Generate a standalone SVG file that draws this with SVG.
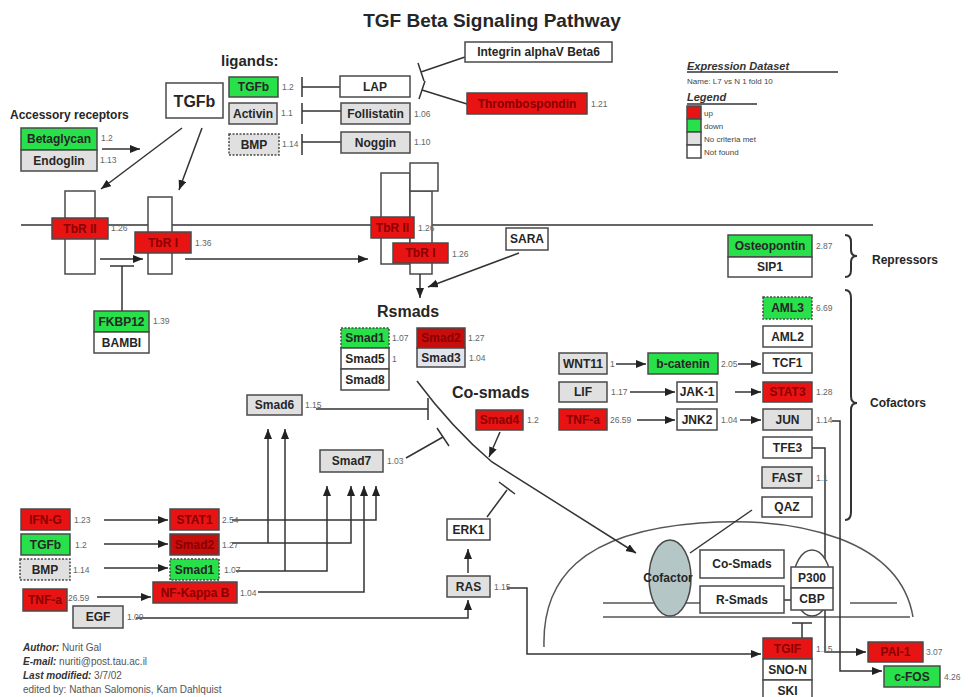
<svg xmlns="http://www.w3.org/2000/svg" width="968" height="697" viewBox="0 0 968 697">
<style>
.b{stroke:#4a4a4a;stroke-width:1.5}
.red{fill:#e81414}.grn{fill:#28e04a}.gry{fill:#e0e0e0}.wht{fill:#fff}.blu{fill:#e2e4ee}
.dot{stroke-dasharray:2 1.5}
text{font-family:"Liberation Sans",Arial,sans-serif}
.t{font-size:12px;font-weight:bold;text-anchor:middle;fill:#262626}
.rt{fill:#8a0000}
.v{font-size:8.5px;fill:#666}
.h{font-weight:bold;fill:#262626}
.c{stroke:#333;stroke-width:1.5;fill:none}
.a{marker-end:url(#ar)}
</style>
<defs>
<marker id="ar" markerUnits="userSpaceOnUse" markerWidth="11" markerHeight="9" refX="10" refY="4" orient="auto"><path d="M0,0 L10,4 L0,8 z" fill="#222"/></marker>
</defs>
<rect width="968" height="697" fill="#fff"/>
<text x="492" y="27" font-size="19" class="h" text-anchor="middle">TGF Beta Signaling Pathway</text>
<text x="221" y="66" font-size="15" class="h">ligands:</text>
<text x="10" y="119" font-size="12" class="h">Accessory receptors</text>
<text x="377" y="317" font-size="16" class="h">Rsmads</text>
<text x="452" y="398" font-size="16" class="h">Co-smads</text>
<text x="872" y="264" font-size="12" class="h">Repressors</text>
<text x="870" y="407" font-size="12" class="h">Cofactors</text>

<!-- legend -->
<g id="legend">
<text x="687" y="70" font-size="11" font-weight="bold" font-style="italic" fill="#333">Expression Dataset</text>
<line x1="687" y1="72" x2="838" y2="72" stroke="#333" stroke-width="1.5"/>
<text x="687" y="84" font-size="8" fill="#444">Name: L7 vs N 1 fold 10</text>
<text x="687" y="101" font-size="11" font-weight="bold" font-style="italic" fill="#333">Legend</text>
<line x1="687" y1="104" x2="757" y2="104" stroke="#333" stroke-width="1.5"/>
<rect x="687" y="106" width="14" height="13" class="red b" stroke-width="1"/>
<rect x="687" y="119" width="14" height="13" class="grn b" stroke-width="1"/>
<rect x="687" y="132" width="14" height="13" class="gry b" stroke-width="1"/>
<rect x="687" y="145" width="14" height="13" class="wht b" stroke-width="1"/>
<text x="704" y="116" font-size="8" fill="#444">up</text>
<text x="704" y="129" font-size="8" fill="#444">down</text>
<text x="704" y="142" font-size="8" fill="#444">No criteria met</text>
<text x="704" y="155" font-size="8" fill="#444">Not found</text>
</g>

<!-- membranes / compartments -->
<g id="compartments">
<line x1="21" y1="225" x2="873" y2="225" stroke="#666" stroke-width="2"/>
<path d="M544,647 C542,580 580,532 700,523 C800,516 900,540 913,617" fill="none" stroke="#555" stroke-width="1.5"/>
<line x1="603" y1="603" x2="700" y2="603" stroke="#555" stroke-width="1.5"/>
<line x1="850" y1="603" x2="897" y2="603" stroke="#555" stroke-width="1.5"/>
<line x1="603" y1="617" x2="910" y2="617" stroke="#555" stroke-width="1.5"/>
<path d="M845,235 Q851,235 851,242 L851,250 Q851,256 857,256 Q851,256 851,262 L851,270 Q851,277 845,277" fill="none" stroke="#333" stroke-width="2"/>
<path d="M845,290 Q851,290 851,298 L851,396 Q851,403 857,403 Q851,403 851,410 L851,512 Q851,520 845,520" fill="none" stroke="#333" stroke-width="2"/>
</g>

<!-- receptors (membrane shapes) -->
<g id="receptor-shapes" class="b" fill="#fff">
<rect x="65" y="191" width="30" height="83"/>
<rect x="148" y="197" width="24" height="77"/>
<rect x="381" y="173" width="29" height="91"/>
<rect x="410" y="191" width="22" height="83"/>
<rect x="410" y="163" width="28" height="28"/>
</g>

<g id="connectors">
<line x1="102" y1="149" x2="140" y2="149" class="c a"/>
<line x1="182" y1="128" x2="101" y2="189" class="c a"/>
<line x1="202" y1="128" x2="179" y2="190" class="c a"/>
<path d="M340,87 H302 M302,77 V97" class="c"/>
<path d="M341,111 H302 M302,103 V124" class="c"/>
<path d="M341,142 H302 M302,134 V155" class="c"/>
<path d="M465,57 L421,72 M418,63 L424,81" class="c"/>
<path d="M467,104 L422,90 M425,81 L419,99" class="c"/>
<line x1="100" y1="259" x2="143" y2="259" class="c a"/>
<path d="M122,311 V266 M110,266 H134" class="c"/>
<line x1="185" y1="259" x2="368" y2="259" class="c a"/>
<line x1="420" y1="274" x2="420" y2="298" class="c a"/>
<line x1="519" y1="253" x2="428" y2="287" class="c a"/>
<path d="M316,409 H428 M428,398 V420" class="c"/>
<path d="M406,458 L443,437 M437,428 L449,446" class="c"/>
<line x1="500" y1="432" x2="489" y2="457" class="c a"/>
<path d="M417,381 Q452,428 492,462 L636,553" class="c a"/>
<path d="M487,517 L507,490 M499,482 L515,494" class="c"/>
<line x1="468" y1="573" x2="468" y2="549" class="c a"/>
<path d="M136,618 H468 V600" class="c a"/>
<path d="M232,520 H376 V486" class="c a"/>
<path d="M232,543 H351 V486" class="c a"/>
<path d="M268,543 V429" class="c a"/>
<path d="M236,571 H327 V486" class="c a"/>
<path d="M285,571 V429" class="c a"/>
<path d="M258,592 H364 V486" class="c a"/>
<line x1="104" y1="520" x2="168" y2="520" class="c a"/>
<line x1="104" y1="544" x2="168" y2="544" class="c a"/>
<line x1="104" y1="568" x2="168" y2="568" class="c a"/>
<line x1="97" y1="597" x2="151" y2="597" class="c a"/>
<path d="M507,588 H527 V654 H761" class="c a"/>
<line x1="616" y1="364" x2="646" y2="364" class="c a"/>
<line x1="738" y1="364" x2="761" y2="364" class="c a"/>
<line x1="630" y1="392" x2="675" y2="392" class="c a"/>
<line x1="735" y1="392" x2="761" y2="392" class="c a"/>
<line x1="637" y1="420" x2="675" y2="420" class="c a"/>
<line x1="740" y1="420" x2="761" y2="420" class="c a"/>
<path d="M832,421 H840 V671 H882" class="c a"/>
<path d="M812,448 H825 V652 H866" class="c a"/>
<line x1="752" y1="510" x2="690" y2="553" class="c"/>
<path d="M802,638 V623 M792,623 H812" class="c"/>
<line x1="784" y1="600" x2="791" y2="600" class="c"/>
</g>

<!-- nodes -->
<g id="TGFb-main"><rect x="166" y="83" width="57" height="35" class="wht b"/><text x="194.5" y="106.5" class="t" style="font-size:16px">TGFb</text></g>
<g id="TGFb-lig"><rect x="229" y="77" width="49" height="20" class="grn b"/><text x="253.5" y="91" class="t">TGFb</text><text x="282" y="90" class="v">1.2</text></g>
<g id="Activin"><rect x="229" y="103" width="48" height="21" class="gry b"/><text x="253" y="118" class="t">Activin</text><text x="281" y="116" class="v">1.1</text></g>
<g id="BMP-lig"><rect x="229" y="134" width="50" height="21" class="gry b dot"/><text x="254" y="149" class="t">BMP</text><text x="282" y="147" class="v">1.14</text></g>
<g id="LAP"><rect x="340" y="76" width="70" height="21" class="wht b"/><text x="375" y="91" class="t">LAP</text></g>
<g id="Follistatin"><rect x="341" y="103" width="69" height="21" class="gry b"/><text x="375.5" y="118" class="t">Follistatin</text><text x="414" y="117" class="v">1.06</text></g>
<g id="Noggin"><rect x="341" y="132" width="69" height="21" class="gry b"/><text x="375.5" y="147" class="t">Noggin</text><text x="414" y="145" class="v">1.10</text></g>
<g id="Integrin"><rect x="465" y="42" width="147" height="20" class="wht b"/><text x="538.5" y="56" class="t">Integrin alphaV Beta6</text></g>
<g id="Thrombospondin"><rect x="467" y="93" width="120" height="21" class="red b"/><text x="527" y="108" class="t rt">Thrombospondin</text><text x="591" y="107" class="v">1.21</text></g>
<g id="Betaglycan"><rect x="21" y="128" width="76" height="22" class="grn b"/><text x="59" y="143" class="t">Betaglycan</text><text x="101" y="141" class="v">1.2</text></g>
<g id="Endoglin"><rect x="21" y="150" width="76" height="21" class="gry b"/><text x="59" y="165" class="t">Endoglin</text><text x="100" y="163" class="v">1.13</text></g>
<g id="TbRII-a"><rect x="52" y="218" width="56" height="21" class="red b"/><text x="80" y="233" class="t rt">TbR II</text><text x="111" y="231" class="v">1.26</text></g>
<g id="TbRI-a"><rect x="135" y="232" width="56" height="21" class="red b"/><text x="163" y="247" class="t rt">TbR I</text><text x="195" y="246" class="v">1.36</text></g>
<g id="TbRII-b"><rect x="371" y="217" width="43" height="21" class="red b"/><text x="392.5" y="232" class="t rt">TbR II</text><text x="418" y="231" class="v">1.26</text></g>
<g id="TbRI-b"><rect x="393" y="243" width="55" height="20" class="red b"/><text x="420.5" y="257" class="t rt">TbR I</text><text x="452" y="257" class="v">1.26</text></g>
<g id="SARA"><rect x="506" y="228" width="42" height="22" class="wht b"/><text x="527" y="243" class="t">SARA</text></g>
<g id="FKBP12"><rect x="94" y="311" width="55" height="21" class="grn b"/><text x="121.5" y="326" class="t">FKBP12</text><text x="153" y="324" class="v">1.39</text></g>
<g id="BAMBI"><rect x="94" y="332" width="55" height="21" class="wht b"/><text x="121.5" y="347" class="t">BAMBI</text></g>
<g id="Smad1-r"><rect x="341" y="328" width="48" height="20" class="grn b dot"/><text x="365" y="342" class="t">Smad1</text><text x="392" y="341" class="v">1.07</text></g>
<g id="Smad5"><rect x="341" y="348" width="48" height="21" class="wht b"/><text x="365" y="363" class="t">Smad5</text><text x="392" y="362" class="v">1</text></g>
<g id="Smad8"><rect x="341" y="369" width="48" height="21" class="wht b"/><text x="365" y="384" class="t">Smad8</text></g>
<g id="Smad2-r"><rect x="417" y="328" width="48" height="20" class="b" style="fill:#c80d0d"/><text x="441" y="342" class="t rt">Smad2</text><text x="468" y="341" class="v">1.27</text></g>
<g id="Smad3"><rect x="417" y="348" width="48" height="19" class="blu b"/><text x="441" y="362" class="t">Smad3</text><text x="469" y="361" class="v">1.04</text></g>
<g id="Smad4"><rect x="476" y="410" width="47" height="20" class="red b"/><text x="499.5" y="424" class="t rt">Smad4</text><text x="527" y="423" class="v">1.2</text></g>
<g id="Smad6"><rect x="247" y="395" width="55" height="20" class="gry b"/><text x="274.5" y="409" class="t">Smad6</text><text x="305" y="408" class="v">1.15</text></g>
<g id="Smad7"><rect x="320" y="450" width="63" height="22" class="gry b"/><text x="351.5" y="465" class="t">Smad7</text><text x="387" y="464" class="v">1.03</text></g>
<g id="IFN-G"><rect x="21" y="509" width="49" height="21" class="red b"/><text x="45.5" y="524" class="t rt">IFN-G</text><text x="74" y="523" class="v">1.23</text></g>
<g id="TGFb-2"><rect x="21" y="534" width="49" height="21" class="grn b"/><text x="45.5" y="549" class="t">TGFb</text><text x="75" y="548" class="v">1.2</text></g>
<g id="BMP-2"><rect x="20" y="559" width="50" height="21" class="gry b dot"/><text x="45" y="574" class="t">BMP</text><text x="73" y="573" class="v">1.14</text></g>
<g id="TNFa-1"><rect x="23" y="589" width="44" height="22" class="red b"/><text x="45" y="604" class="t rt">TNF-a</text><text x="68" y="601" class="v">26.59</text></g>
<g id="EGF"><rect x="73" y="606" width="50" height="22" class="gry b"/><text x="98" y="621" class="t">EGF</text><text x="127" y="620" class="v">1.09</text></g>
<g id="STAT1"><rect x="170" y="509" width="49" height="21" class="red b"/><text x="194.5" y="524" class="t rt">STAT1</text><text x="222" y="523" class="v">2.54</text></g>
<g id="Smad2-b"><rect x="170" y="534" width="49" height="21" class="b" style="fill:#c80d0d"/><text x="194.5" y="549" class="t rt">Smad2</text><text x="222" y="548" class="v">1.27</text></g>
<g id="Smad1-b"><rect x="170" y="559" width="49" height="21" class="grn b dot"/><text x="194.5" y="574" class="t">Smad1</text><text x="224" y="573" class="v">1.07</text></g>
<g id="NF-KappaB"><rect x="153" y="582" width="84" height="21" class="red b"/><text x="195" y="597" class="t rt">NF-Kappa B</text><text x="240" y="596" class="v">1.04</text></g>
<g id="ERK1"><rect x="447" y="519" width="43" height="21" class="wht b"/><text x="468.5" y="534" class="t">ERK1</text></g>
<g id="RAS"><rect x="447" y="576" width="43" height="21" class="gry b"/><text x="468.5" y="591" class="t">RAS</text><text x="494" y="590" class="v">1.15</text></g>
<g id="Osteopontin"><rect x="728" y="235" width="84" height="22" class="grn b"/><text x="770" y="250" class="t">Osteopontin</text><text x="816" y="249" class="v">2.87</text></g>
<g id="SIP1"><rect x="728" y="257" width="84" height="20" class="wht b"/><text x="770" y="271" class="t">SIP1</text></g>
<g id="AML3"><rect x="763" y="297" width="49" height="22" class="grn b dot"/><text x="787.5" y="312" class="t">AML3</text><text x="816" y="311" class="v">6.69</text></g>
<g id="AML2"><rect x="763" y="326" width="49" height="21" class="wht b"/><text x="787.5" y="341" class="t">AML2</text></g>
<g id="TCF1"><rect x="763" y="353" width="49" height="20" class="wht b"/><text x="787.5" y="367" class="t">TCF1</text></g>
<g id="STAT3"><rect x="763" y="382" width="49" height="20" class="red b"/><text x="787.5" y="396" class="t rt">STAT3</text><text x="816" y="395" class="v">1.28</text></g>
<g id="JUN"><rect x="763" y="409" width="49" height="21" class="gry b"/><text x="787.5" y="424" class="t">JUN</text><text x="816" y="423" class="v">1.14</text></g>
<g id="TFE3"><rect x="763" y="437" width="49" height="21" class="wht b"/><text x="787.5" y="452" class="t">TFE3</text></g>
<g id="FAST"><rect x="762" y="467" width="50" height="21" class="gry b"/><text x="787" y="482" class="t">FAST</text><text x="816" y="481" class="v">1.1</text></g>
<g id="QAZ"><rect x="762" y="497" width="50" height="20" class="wht b"/><text x="787" y="511" class="t">QAZ</text></g>
<g id="WNT11"><rect x="559" y="353" width="48" height="21" class="gry b"/><text x="583" y="368" class="t">WNT11</text><text x="610" y="367" class="v">1</text></g>
<g id="b-catenin"><rect x="648" y="353" width="70" height="21" class="grn b"/><text x="683" y="368" class="t">b-catenin</text><text x="721" y="367" class="v">2.05</text></g>
<g id="LIF"><rect x="559" y="382" width="48" height="20" class="gry b"/><text x="583" y="396" class="t">LIF</text><text x="611" y="395" class="v">1.17</text></g>
<g id="JAK-1"><rect x="677" y="382" width="40" height="20" class="wht b"/><text x="697" y="396" class="t">JAK-1</text></g>
<g id="TNFa-2"><rect x="559" y="409" width="48" height="21" class="red b"/><text x="583" y="424" class="t rt">TNF-a</text><text x="610" y="423" class="v">26.59</text></g>
<g id="JNK2"><rect x="677" y="409" width="40" height="21" class="wht b"/><text x="697" y="424" class="t">JNK2</text><text x="721" y="423" class="v">1.04</text></g>
<g id="Cofactor"><ellipse cx="670" cy="578" rx="21" ry="38" fill="#b4c6c6" stroke="#4a4a4a" stroke-width="1.5"/><text x="668" y="582" class="t">Cofactor</text></g>
<g id="Co-Smads"><rect x="700" y="550" width="84" height="28" class="wht b"/><text x="742" y="568" class="t">Co-Smads</text></g>
<g id="R-Smads"><rect x="700" y="586" width="84" height="27" class="wht b"/><text x="742" y="604" class="t">R-Smads</text></g>
<g id="P300-CBP"><ellipse cx="812" cy="583" rx="19" ry="33" class="wht b"/><rect x="791" y="567" width="42" height="21" class="wht b"/><text x="812" y="582" class="t">P300</text><rect x="791" y="588" width="42" height="22" class="wht b"/><text x="812" y="603" class="t">CBP</text></g>
<g id="TGIF"><rect x="763" y="638" width="49" height="21" class="red b"/><text x="787.5" y="653" class="t rt">TGIF</text><text x="816" y="652" class="v">1.15</text></g>
<g id="SNO-N"><rect x="763" y="659" width="49" height="21" class="wht b"/><text x="787.5" y="674" class="t">SNO-N</text></g>
<g id="SKI"><rect x="763" y="680" width="49" height="21" class="wht b"/><text x="787.5" y="695" class="t">SKI</text></g>
<g id="PAI-1"><rect x="868" y="642" width="55" height="20" class="red b"/><text x="895.5" y="656" class="t rt">PAI-1</text><text x="926" y="655" class="v">3.07</text></g>
<g id="c-FOS"><rect x="884" y="666" width="56" height="21" class="grn b"/><text x="912" y="681" class="t">c-FOS</text><text x="944" y="680" class="v">4.26</text></g>

<g id="credits" font-size="10" fill="#555">
<text x="23" y="651"><tspan font-weight="bold" font-style="italic" fill="#333">Author:</tspan> Nurit Gal</text>
<text x="23" y="665"><tspan font-weight="bold" font-style="italic" fill="#333">E-mail:</tspan> nuriti@post.tau.ac.il</text>
<text x="23" y="679"><tspan font-weight="bold" font-style="italic" fill="#333">Last modified:</tspan> 3/7/02</text>
<text x="23" y="693">edited by: Nathan Salomonis, Kam Dahlquist</text>
</g>
</svg>
